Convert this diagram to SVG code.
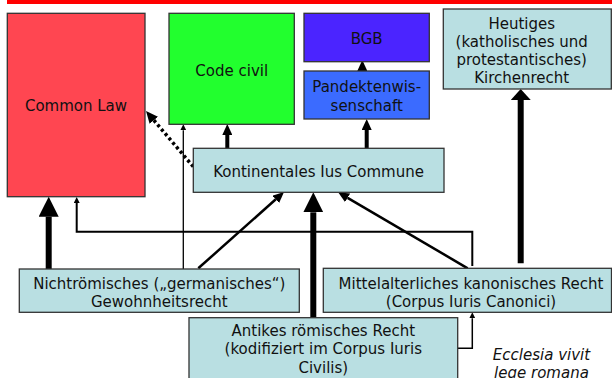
<svg xmlns="http://www.w3.org/2000/svg" width="612" height="378" viewBox="0 0 612 378">
<style>
.box{stroke:#333;stroke-width:1.3}
.lb{fill:#b9dfe2}
text{font-family:"DejaVu Sans","Verdana",sans-serif;font-size:15px;fill:#111;text-anchor:middle}
.it{font-style:italic}
.c{fill:none;stroke:#000}
</style>
<defs>
<marker id="hBig" markerUnits="userSpaceOnUse" markerWidth="20" markerHeight="20" viewBox="0 -10 20 20" refX="0" refY="0" orient="auto"><path d="M0,-10 L20,0 L0,10 z"/></marker>
<marker id="hWide" markerUnits="userSpaceOnUse" markerWidth="11" markerHeight="20" viewBox="0 -10 11 20" refX="0" refY="0" orient="auto"><path d="M0,-10 L11,0 L0,10 z"/></marker>
<marker id="hMed" markerUnits="userSpaceOnUse" markerWidth="11" markerHeight="10" viewBox="0 -5 11 10" refX="0" refY="0" orient="auto"><path d="M0,-5 L11,0 L0,5 z"/></marker>
<marker id="hDot" markerUnits="userSpaceOnUse" markerWidth="12" markerHeight="11" viewBox="0 -5.5 12 11" refX="0" refY="0" orient="auto"><path d="M0,-5.5 L12,0 L0,5.5 z"/></marker>
<marker id="hSm" markerUnits="userSpaceOnUse" markerWidth="6" markerHeight="6" viewBox="0 -3 6 6" refX="0" refY="0" orient="auto"><path d="M0,-3 L6,0 L0,3 z"/></marker>
</defs>
<rect x="7" y="0" width="605" height="4" fill="#ff0000"/>
<g id="connectors">
<line class="c" x1="48.7" y1="269" x2="48.7" y2="216.7" stroke-width="6" marker-end="url(#hBig)"/>
<polyline class="c" points="472.3,266 472.3,231.7 76.7,231.7 76.7,203" stroke-width="2" marker-end="url(#hSm)"/>
<line class="c" x1="183.3" y1="269" x2="183.3" y2="130.3" stroke-width="1.3" marker-end="url(#hSm)"/>
<line class="c" x1="193.3" y1="166.7" x2="153.8" y2="120.2" stroke-width="3.5" stroke-dasharray="3 2.8" marker-end="url(#hDot)"/>
<line class="c" x1="227.3" y1="148.3" x2="227.3" y2="135" stroke-width="4" marker-end="url(#hMed)"/>
<line class="c" x1="366.7" y1="148.3" x2="366.7" y2="130" stroke-width="4" marker-end="url(#hMed)"/>
<line class="c" x1="362.3" y1="72" x2="362.3" y2="71" stroke-width="2" marker-end="url(#hMed)"/>
<line class="c" x1="198.3" y1="268.3" x2="275.8" y2="199.3" stroke-width="2.5" marker-end="url(#hMed)"/>
<line class="c" x1="313.3" y1="317.7" x2="313.3" y2="212.3" stroke-width="6" marker-end="url(#hBig)"/>
<line class="c" x1="467.7" y1="268.3" x2="347.6" y2="197.8" stroke-width="2.5" marker-end="url(#hMed)"/>
<line class="c" x1="520.7" y1="263.3" x2="520.7" y2="100" stroke-width="6" marker-end="url(#hWide)"/>
<polyline class="c" points="457.7,348.3 472.3,348.3 472.3,318.3" stroke-width="1.5" marker-end="url(#hSm)"/>
</g>
<g id="common-law"><rect class="box" x="7.3" y="13.3" width="137.7" height="183.4" fill="#ff4651"/><text x="76" y="111">Common Law</text></g>
<g id="code-civil"><rect class="box" x="169" y="13.3" width="125.3" height="111" fill="#22ff2e"/><text x="231.7" y="75.5">Code civil</text></g>
<g id="bgb"><rect class="box" x="304" y="13.3" width="125.3" height="48.4" fill="#4b24ff"/><text x="366.7" y="44">BGB</text></g>
<g id="pandekten"><rect class="box" x="304" y="71" width="125.3" height="48" fill="#3b6bff"/><text x="366.7" y="92.3">Pandektenwis-</text><text x="366.7" y="111">senschaft</text></g>
<g id="heutiges"><rect class="box lb" x="443.3" y="9" width="168" height="80"/><text x="521.7" y="28.5">Heutiges</text><text x="521.7" y="46.8">(katholisches und</text><text x="521.7" y="65.1">protestantisches)</text><text x="521.7" y="83.4">Kirchenrecht</text></g>
<g id="ius-commune"><rect class="box lb" x="193.3" y="148.3" width="250.7" height="44"/><text x="318.5" y="176.5">Kontinentales Ius Commune</text></g>
<g id="nichtroemisches"><rect class="box lb" x="19.3" y="269" width="280" height="43.3"/><text x="159.3" y="289">Nichtrömisches („germanisches“)</text><text x="159.3" y="307.3">Gewohnheitsrecht</text></g>
<g id="kanonisches"><rect class="box lb" x="323.3" y="268.3" width="288.2" height="44"/><text x="471" y="288.5">Mittelalterliches kanonisches Recht</text><text x="471" y="306.8">(Corpus Iuris Canonici)</text></g>
<g id="antikes"><rect class="box lb" x="189" y="317.7" width="268.7" height="70"/><text x="323.3" y="336">Antikes römisches Recht</text><text x="323.3" y="354.3">(kodifiziert im Corpus Iuris</text><text x="323.3" y="372.6">Civilis)</text></g>
<g id="ecclesia"><text class="it" x="541.5" y="360">Ecclesia vivit</text><text class="it" x="541.5" y="378.3">lege romana</text></g>
</svg>
